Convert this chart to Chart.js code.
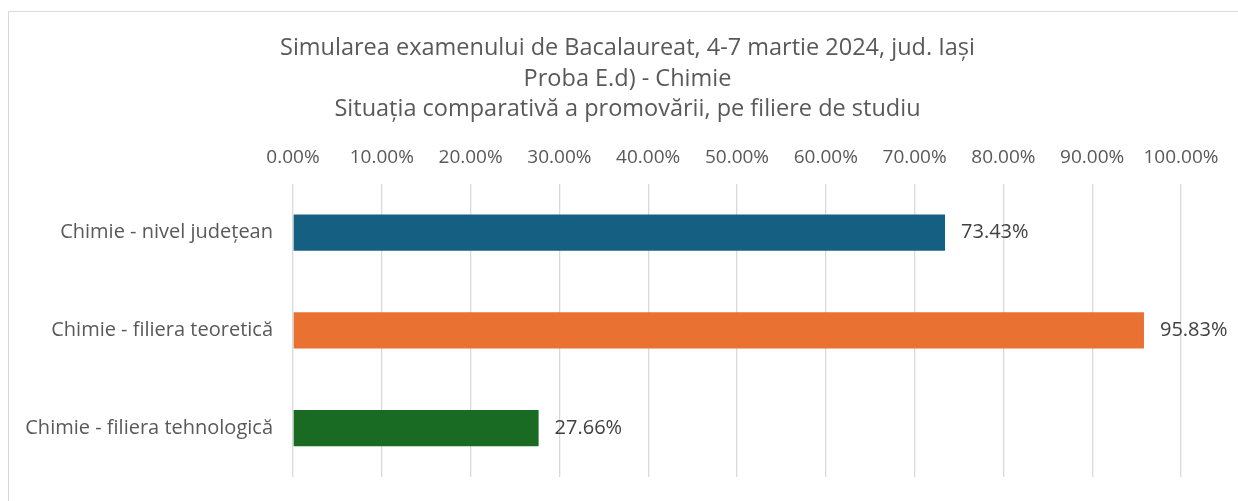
<!DOCTYPE html>
<html>
<head>
<meta charset="utf-8">
<script src="https://cdn.jsdelivr.net/npm/chart.js@4"></script>
<style>
  body { margin: 0; background: #fff; }
  #wrap { position: relative; width: 1238px; height: 501px; overflow: hidden; }
  #frame { position: absolute; left: 8px; top: 11px; right: -2px; bottom: -2px; border: 1px solid #d9d9d9; pointer-events: none; }
</style>
</head>
<body>
<div id="wrap">
  <canvas id="chart" width="1238" height="501"></canvas>
  <div id="frame"></div>
</div>
<script>
const titleLines = [
  'Simularea examenului de Bacalaureat, 4-7 martie 2024, jud. Iași',
  'Proba E.d) - Chimie',
  'Situația comparativă a promovării, pe filiere de studiu'
];
const categories = ['Chimie - nivel județean', 'Chimie - filiera teoretică', 'Chimie - filiera tehnologică'];
const promovare = [73.43, 95.83, 27.66];
const barColors = ['#156082', '#E97132', '#196B24'];

const FONT = '"Open Sans", Roboto, sans-serif';

// percentage labels just right of each bar
const valueLabels = {
  id: 'valueLabels',
  afterDatasetsDraw(chart) {
    const ctx = chart.ctx;
    const meta = chart.getDatasetMeta(0);
    ctx.save();
    ctx.font = '20px ' + FONT;
    ctx.fillStyle = '#404040';
    ctx.textAlign = 'left';
    ctx.textBaseline = 'middle';
    meta.data.forEach((bar, i) => {
      ctx.fillText(promovare[i].toFixed(2) + '%', bar.x + 16, bar.y);
    });
    ctx.restore();
  }
};

// title in the reference sits a bit right of centre
const titleShift = {
  id: 'titleShift',
  afterLayout(chart) {
    const t = chart.titleBlock;
    if (t) { t.left += 37; t.right += 37; }
  }
};

new Chart(document.getElementById('chart'), {
  type: 'bar',
  data: {
    labels: categories,
    datasets: [{
      data: promovare,
      backgroundColor: barColors,
      borderWidth: 0,
      barPercentage: 1,
      categoryPercentage: 0.37
    }]
  },
  options: {
    indexAxis: 'y',
    responsive: false,
    animation: false,
    layout: { padding: { left: 0, right: 57, top: 0, bottom: 24 } },
    plugins: {
      legend: { display: false },
      tooltip: { enabled: false },
      title: {
        display: true,
        text: titleLines,
        color: '#595959',
        font: { family: FONT, size: 23.5, weight: 'normal', lineHeight: 1.3 },
        padding: { top: 33, bottom: 22 }
      }
    },
    scales: {
      x: {
        position: 'top',
        min: 0,
        max: 100,
        ticks: {
          stepSize: 10,
          color: '#595959',
          font: { family: FONT, size: 19 },
          padding: 15,
          maxRotation: 0,
          callback: v => v.toFixed(2) + '%'
        },
        grid: { color: '#d9d9d9', lineWidth: 1.3, drawTicks: false },
        border: { display: false },
        afterFit(scale) { scale.height = 37; }
      },
      y: {
        ticks: {
          color: '#595959',
          font: { family: FONT, size: 20 },
          padding: 20
        },
        grid: { display: false, drawTicks: false },
        border: { display: false },
        afterFit(scale) {
          scale.width = 293;
          scale.paddingTop = 0;
          scale.paddingBottom = 0;
        }
      }
    }
  },
  plugins: [valueLabels, titleShift]
});
</script>
</body>
</html>
